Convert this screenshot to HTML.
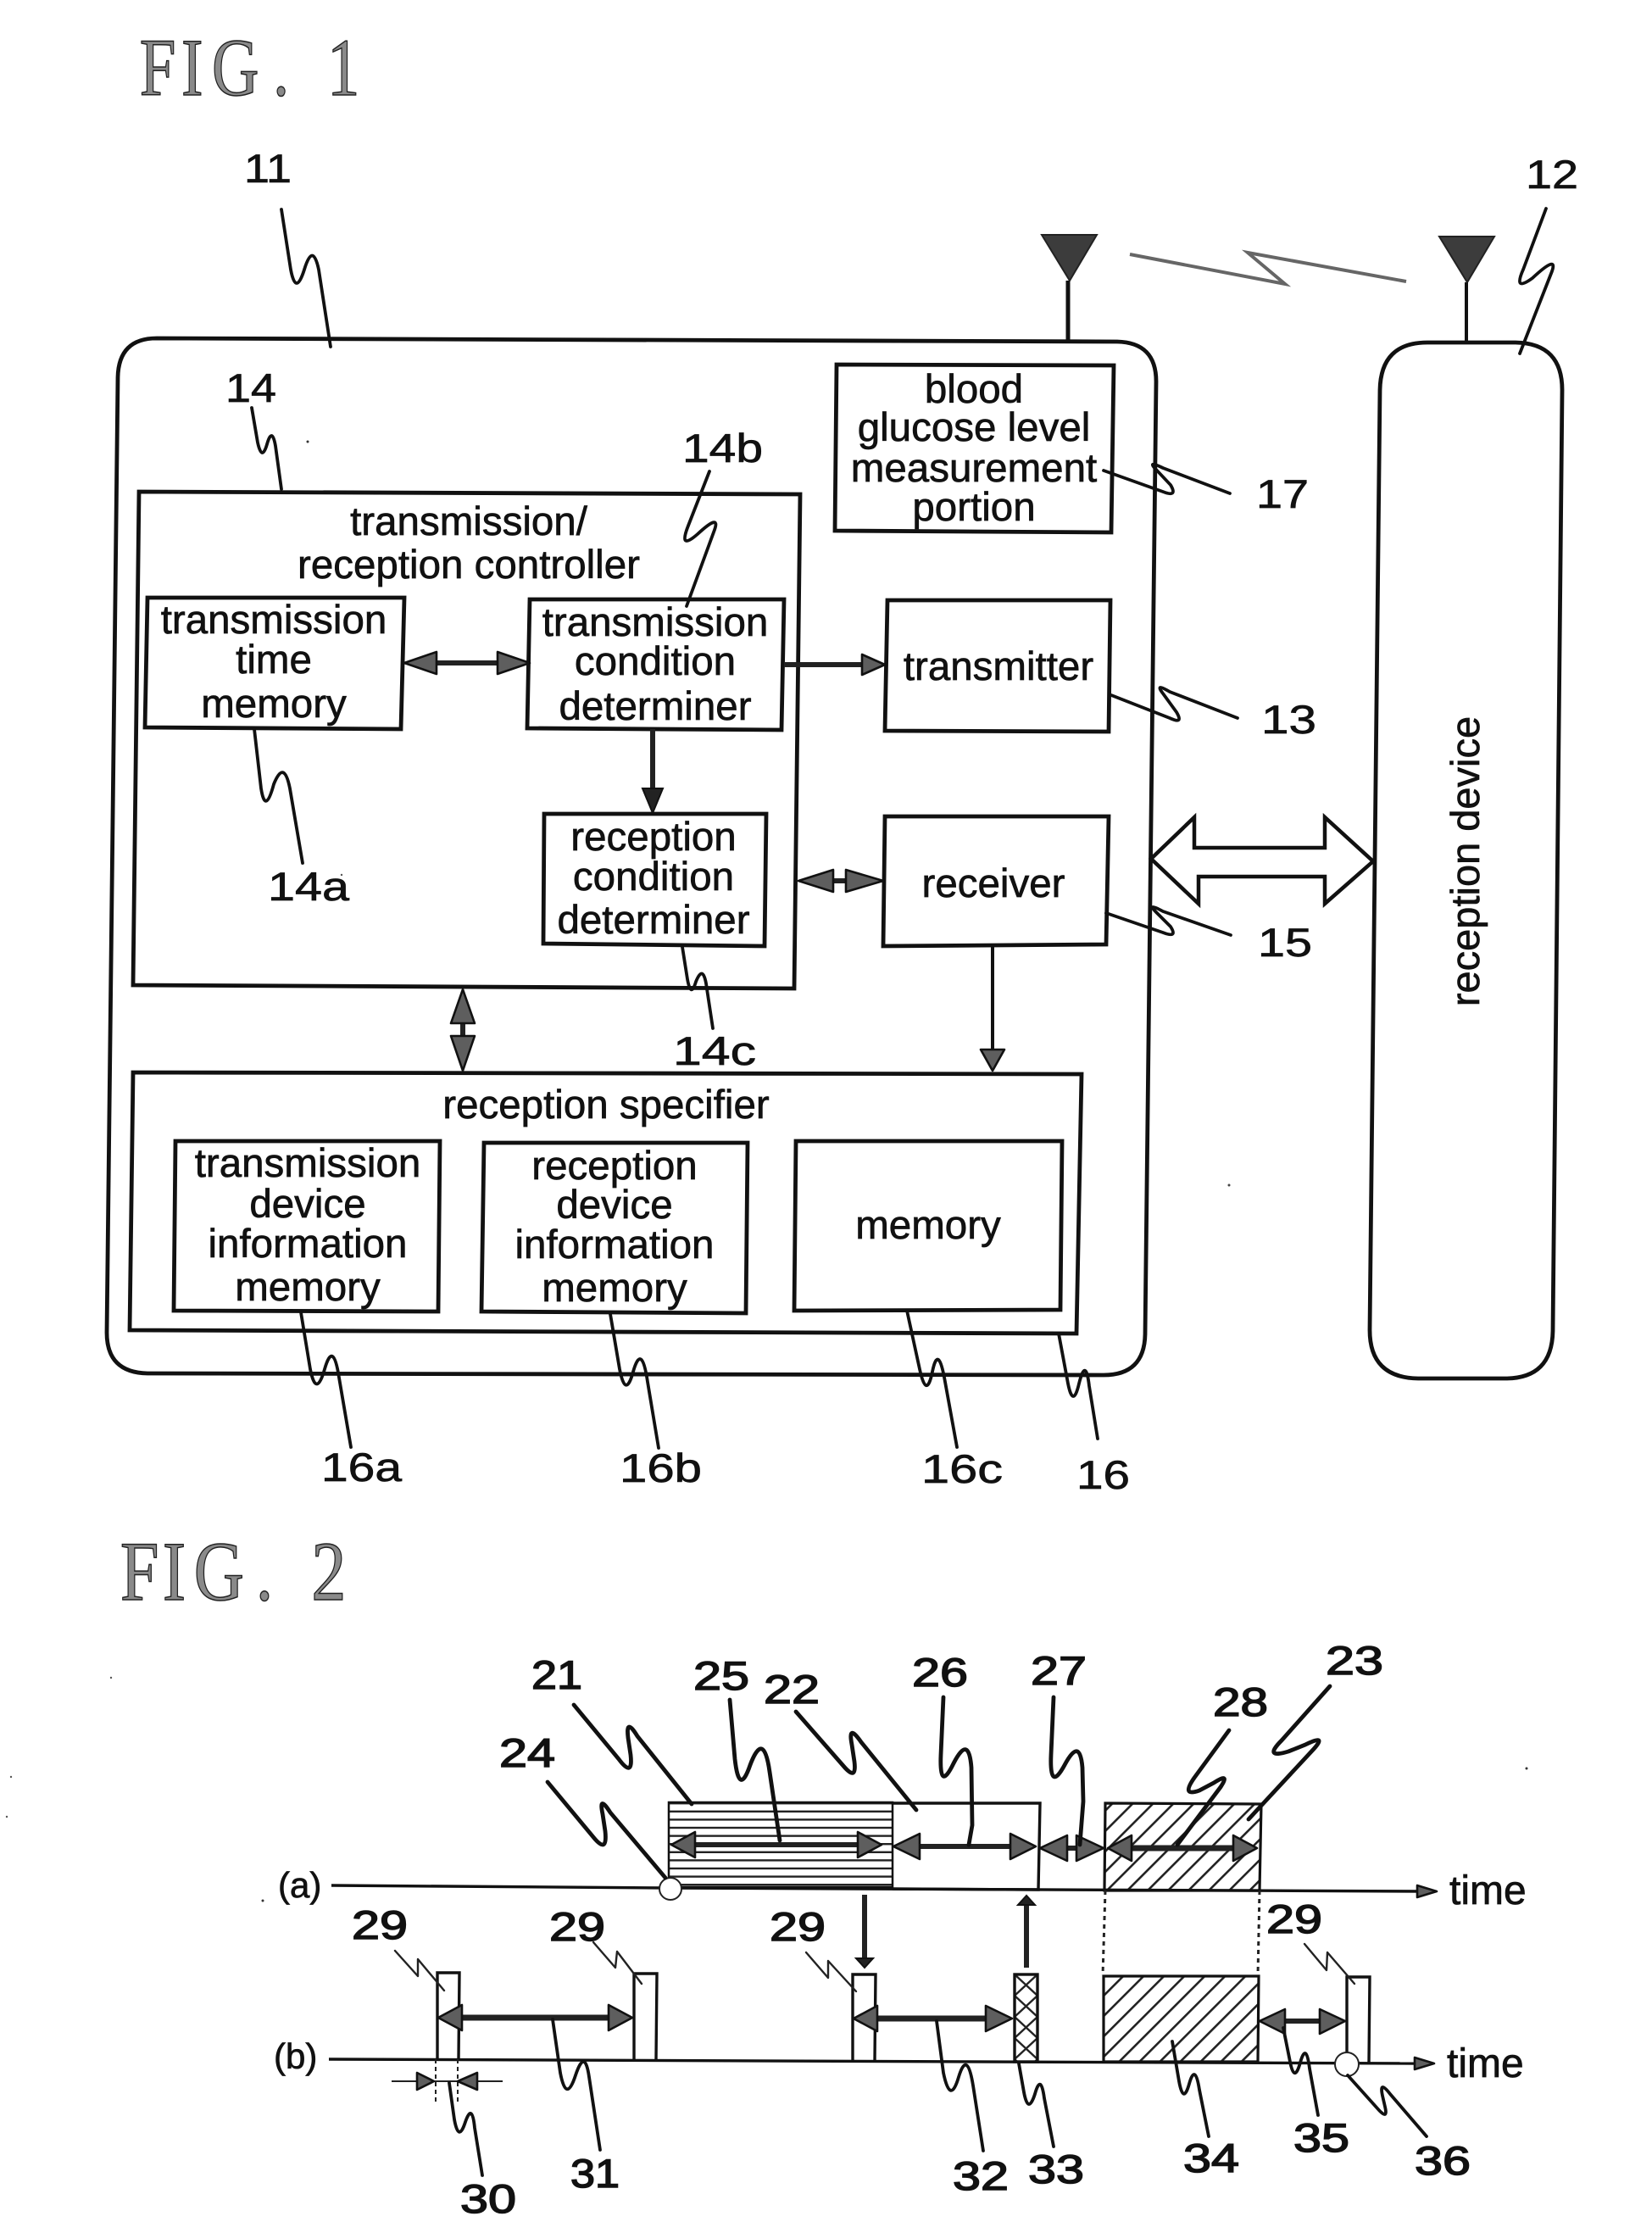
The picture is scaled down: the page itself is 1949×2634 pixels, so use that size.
<!DOCTYPE html>
<html><head><meta charset="utf-8"><style>
html,body{margin:0;padding:0;background:#fff}
svg{display:block}
text{font-family:"Liberation Sans",sans-serif;fill:#111}
.t{font-size:47.5px;text-anchor:middle;stroke:#111;stroke-width:.7;transform:translateY(2px)}
.r{font-size:47px;text-anchor:middle;stroke:#111;stroke-width:.7}
.n{font-size:47px;stroke:#111;stroke-width:.7}
.m{font-size:47px;stroke:#111;stroke-width:1.5}
.f{font-family:"Liberation Serif",serif;fill:#8a8a8a;stroke:#222;stroke-width:1.5}
.b{fill:#fff;stroke:#111;stroke-width:4.8;stroke-linejoin:miter}
.o{fill:none;stroke:#111;stroke-width:4.8}
.l{fill:none;stroke:#111;stroke-width:3.8;stroke-linejoin:round;stroke-linecap:round}
.s{fill:none;stroke:#111;stroke-width:4.8;stroke-linejoin:round;stroke-linecap:round}
.k{fill:none;stroke:#222;stroke-width:2.4;stroke-linejoin:round;stroke-linecap:round}
.a{stroke:#222;stroke-width:6;fill:none}
.h{fill:#5e5e5e;stroke:#111;stroke-width:2.6;stroke-linejoin:round}
.d{fill:#222;stroke:#111;stroke-width:2}
.x{stroke:#111;stroke-width:3.4;fill:none}
</style></head><body>
<svg xmlns="http://www.w3.org/2000/svg" width="1949" height="2634" viewBox="0 0 1949 2634">
<defs>
<pattern id="hz" width="40" height="9.6" patternUnits="userSpaceOnUse" y="2126"><rect width="40" height="2.4" fill="#222"/></pattern>
<pattern id="dg" width="17" height="17" patternUnits="userSpaceOnUse" patternTransform="rotate(45)"><rect width="2.6" height="17" fill="#222"/></pattern>
<pattern id="cr" width="27" height="25" patternUnits="userSpaceOnUse" x="1197" y="2329"><path d="M0 0L27 25M27 0L0 25" stroke="#222" stroke-width="2.4" fill="none"/></pattern>
</defs>

<!-- FIG 1 -->
<text class="f" font-size="96" transform="translate(0,112) scale(.8,1)" x="206 267.5 312.5 402.5 440 482.5">FIG. 1</text>

<!-- outer device 11 -->
<path class="o" d="M185 399L1318 403Q1364 404 1364 450L1351 1574Q1350 1622 1302 1622L174 1620Q126 1619 126 1572L139 445Q140 399 185 399Z"/>
<!-- device 12 -->
<path class="o" d="M1684 404L1788 404Q1844 405 1843 462L1832 1570Q1831 1626 1776 1626L1673 1626Q1616 1625 1616 1569L1628 460Q1629 404 1684 404Z"/>

<!-- antennas -->
<polygon points="1229,277 1294,277 1262,331" fill="#3c3c3c" stroke="#222" stroke-width="2"/>
<line x1="1260" y1="331" x2="1260" y2="402" stroke="#111" stroke-width="5"/>
<polygon points="1698,279 1763,279 1731,333" fill="#3c3c3c" stroke="#222" stroke-width="2"/>
<line x1="1730" y1="333" x2="1730" y2="404" stroke="#111" stroke-width="4"/>
<polyline points="1333,300 1516,335 1472,298 1659,332" fill="none" stroke="#666" stroke-width="4"/>

<!-- box 14 -->
<polygon class="b" points="164,580 944,583 937,1166 157,1162"/>
<text class="t" x="553" y="629">transmission/</text>
<text class="t" x="553" y="680">reception controller</text>

<polygon class="b" points="174,705 477,705 473,860 171,858"/>
<text class="t" x="323" y="745">transmission</text>
<text class="t" x="323" y="792">time</text>
<text class="t" x="323" y="844">memory</text>

<polygon class="b" points="625,707 925,707 922,861 622,859"/>
<text class="t" x="773" y="748">transmission</text>
<text class="t" x="773" y="794">condition</text>
<text class="t" x="773" y="847">determiner</text>

<polygon class="b" points="642,960 904,960 902,1116 641,1113"/>
<text class="t" x="771" y="1001">reception</text>
<text class="t" x="771" y="1048">condition</text>
<text class="t" x="771" y="1099">determiner</text>

<!-- box 17 -->
<polygon class="b" points="987,430 1314,431 1311,628 985,626"/>
<text class="t" x="1149" y="473">blood</text>
<text class="t" x="1149" y="518">glucose level</text>
<text class="t" x="1149" y="566">measurement</text>
<text class="t" x="1149" y="612">portion</text>

<!-- transmitter, receiver -->
<polygon class="b" points="1047,708 1310,708 1308,863 1044,862"/>
<text class="t" x="1178" y="800">transmitter</text>
<polygon class="b" points="1044,963 1308,963 1305,1114 1042,1116"/>
<text class="t" x="1172" y="1056">receiver</text>

<!-- box 16 -->
<polygon class="b" points="157,1265 1276,1267 1270,1573 153,1569"/>
<text class="t" x="715" y="1317">reception specifier</text>
<polygon class="b" points="207,1346 519,1346 517,1547 205,1546"/>
<text class="t" x="363" y="1386">transmission</text>
<text class="t" x="363" y="1434">device</text>
<text class="t" x="363" y="1481">information</text>
<text class="t" x="363" y="1532">memory</text>
<polygon class="b" points="571,1348 882,1348 880,1549 568,1547"/>
<text class="t" x="725" y="1389">reception</text>
<text class="t" x="725" y="1435">device</text>
<text class="t" x="725" y="1482">information</text>
<text class="t" x="725" y="1533">memory</text>
<polygon class="b" points="939,1346 1253,1346 1251,1545 937,1546"/>
<text class="t" x="1095" y="1459">memory</text>

<!-- reception device label -->
<text class="r" transform="translate(1745,1016) rotate(-90)">reception device</text>

<!-- block double arrow -->
<polygon points="1358,1013 1409,964 1409,1000 1563,1000 1563,964 1620,1016 1563,1066 1563,1034 1414,1034 1414,1066" fill="#fff" stroke="#111" stroke-width="4.5"/>

<!-- fig1 arrows -->
<line class="a" x1="505" y1="782" x2="600" y2="782"/>
<polygon class="h" points="477,782 515,769 515,795"/>
<polygon class="h" points="625,782 587,769 587,795"/>
<line class="a" x1="925" y1="784" x2="1025" y2="784"/>
<polygon class="h" points="1044,784 1017,772 1017,796"/>
<line class="a" x1="960" y1="1039" x2="1020" y2="1039"/>
<polygon class="h" points="942,1039 983,1026 983,1052"/>
<polygon class="h" points="1042,1039 998,1026 998,1052"/>
<line class="a" x1="546" y1="1190" x2="546" y2="1240"/>
<polygon class="h" points="546,1167 532,1207 560,1207"/>
<polygon class="h" points="546,1263 532,1222 560,1222"/>
<line class="a" x1="770" y1="860" x2="770" y2="935"/>
<polygon class="d" points="770,959 758,930 782,930"/>
<line x1="1171" y1="1114" x2="1171" y2="1240" stroke="#111" stroke-width="4"/>
<polygon class="h" points="1171,1263 1157,1238 1185,1238"/>

<!-- fig1 leaders -->
<path class="l" d="M332 247L343 318Q349 350 359 318Q369 285 376 318L390 409"/>
<path class="l" d="M297 481L304 522Q309 545 315 524Q321 503 325 526L332 577"/>
<path class="l" d="M837 556L812 620Q800 650 823 630Q850 605 843 625L810 715"/>
<path class="l" d="M300 860L308 930Q313 962 323 925Q335 895 342 930L357 1018"/>
<path class="l" d="M805 1117L811 1155Q815 1178 821 1158Q829 1138 833 1160L841 1213"/>
<path class="l" d="M1302 555L1372 580Q1390 587 1381 572L1365 555Q1352 542 1372 552L1451 582"/>
<path class="l" d="M1311 820L1380 847Q1397 855 1388 840L1372 818Q1362 805 1380 816L1460 847"/>
<path class="l" d="M1305 1077L1372 1100Q1390 1107 1381 1093L1365 1077Q1352 1064 1372 1075L1452 1103"/>
<path class="l" d="M1824 246L1797 318Q1785 345 1808 328Q1838 300 1831 320L1793 417"/>
<path class="l" d="M355 1548L366 1615Q373 1650 383 1615Q393 1580 400 1625L414 1707"/>
<path class="l" d="M720 1550L731 1615Q738 1651 747 1618Q757 1583 764 1630L777 1708"/>
<path class="l" d="M1070 1546L1085 1615Q1093 1652 1100 1618Q1107 1584 1115 1630L1129 1707"/>
<path class="l" d="M1249 1573L1260 1632Q1266 1662 1273 1632Q1281 1600 1285 1635L1295 1697"/>

<!-- fig1 numbers -->
<text class="n" x="288" y="215" textLength="56" lengthAdjust="spacingAndGlyphs">11</text>
<text class="n" x="1800" y="222" textLength="62" lengthAdjust="spacingAndGlyphs">12</text>
<text class="n" x="266" y="474" textLength="60" lengthAdjust="spacingAndGlyphs">14</text>
<text class="n" x="805" y="545" textLength="95" lengthAdjust="spacingAndGlyphs">14b</text>
<text class="n" x="1482" y="599" textLength="62" lengthAdjust="spacingAndGlyphs">17</text>
<text class="n" x="1488" y="865" textLength="65" lengthAdjust="spacingAndGlyphs">13</text>
<text class="n" x="316" y="1062" textLength="96" lengthAdjust="spacingAndGlyphs">14a</text>
<text class="n" x="1484" y="1128" textLength="64" lengthAdjust="spacingAndGlyphs">15</text>
<text class="n" x="794" y="1256" textLength="98" lengthAdjust="spacingAndGlyphs">14c</text>
<text class="n" x="379" y="1747" textLength="95" lengthAdjust="spacingAndGlyphs">16a</text>
<text class="n" x="731" y="1748" textLength="97" lengthAdjust="spacingAndGlyphs">16b</text>
<text class="n" x="1087" y="1749" textLength="96" lengthAdjust="spacingAndGlyphs">16c</text>
<text class="n" x="1270" y="1756" textLength="63" lengthAdjust="spacingAndGlyphs">16</text>

<!-- FIG 2 -->
<text class="f" font-size="100" transform="translate(0,1887) scale(.82,1)" x="173 234 279 368 405 448">FIG. 2</text>

<!-- fig2 top row -->
<rect x="789" y="2126" width="264" height="100" fill="url(#hz)" stroke="#111" stroke-width="2.5"/>
<polyline class="x" points="1053,2127 1227,2127 1225,2229 1053,2228"/>
<polygon points="1304,2127 1488,2128 1486,2230 1303,2230" fill="url(#dg)" stroke="#111" stroke-width="3.2"/>
<line class="x" x1="391" y1="2224" x2="789" y2="2227"/>
<line class="x" x1="789" y1="2227" x2="1680" y2="2231"/>
<polygon class="h" points="1695,2231 1672,2224 1672,2238"/>
<circle cx="791" cy="2228" r="13" fill="#fff" stroke="#222" stroke-width="2"/>

<!-- dotted guides -->
<line x1="1304" y1="2230" x2="1301" y2="2330" stroke="#222" stroke-width="3" stroke-dasharray="5 5"/>
<line x1="1486" y1="2230" x2="1484" y2="2330" stroke="#222" stroke-width="3" stroke-dasharray="5 5"/>

<!-- fig2 lower row -->
<line class="x" x1="388" y1="2429" x2="1675" y2="2434"/>
<polygon class="h" points="1692,2434 1669,2427 1669,2441"/>
<polyline class="x" points="516,2429 516,2327 542,2327 541,2429"/>
<polyline class="x" points="748,2430 748,2328 775,2328 774,2430"/>
<polyline class="x" points="1006,2431 1006,2329 1033,2329 1032,2431"/>
<rect x="1197" y="2329" width="27" height="103" fill="url(#cr)" stroke="#111" stroke-width="3.4"/>
<polygon points="1302,2331 1485,2331 1484,2432 1302,2432" fill="url(#dg)" stroke="#111" stroke-width="3.2"/>
<polyline class="x" points="1589,2434 1589,2332 1616,2332 1615,2434"/>
<circle cx="1589" cy="2435" r="14" fill="#fff" stroke="#222" stroke-width="2"/>

<!-- dimension 30 -->
<line x1="514" y1="2429" x2="514" y2="2482" stroke="#222" stroke-width="2" stroke-dasharray="5 4"/>
<line x1="540" y1="2429" x2="540" y2="2482" stroke="#222" stroke-width="2" stroke-dasharray="5 4"/>
<line x1="462" y1="2455" x2="593" y2="2455" stroke="#222" stroke-width="2"/>
<polygon class="h" points="512,2455 492,2445 492,2465"/>
<polygon class="h" points="540,2455 563,2445 563,2465"/>

<!-- fig2 dbl arrows -->
<line class="a" x1="805" y1="2176" x2="1025" y2="2176"/>
<polygon class="h" points="792,2176 820,2161 820,2191"/><polygon class="h" points="1040,2176 1012,2161 1012,2191"/>
<line class="a" x1="1070" y1="2178" x2="1205" y2="2178"/>
<polygon class="h" points="1054,2178 1085,2163 1085,2193"/><polygon class="h" points="1222,2178 1192,2163 1192,2193"/>
<line class="a" x1="1245" y1="2180" x2="1285" y2="2180"/>
<polygon class="h" points="1227,2180 1259,2165 1259,2195"/><polygon class="h" points="1302,2180 1270,2165 1270,2195"/>
<line class="a" x1="1320" y1="2180" x2="1470" y2="2180" style="stroke-width:7"/>
<polygon class="h" points="1307,2180 1335,2165 1335,2195"/><polygon class="h" points="1483,2180 1455,2165 1455,2195"/>
<line class="a" x1="530" y1="2380" x2="730" y2="2380" style="stroke-width:7"/>
<polygon class="h" points="517,2380 545,2365 545,2395"/><polygon class="h" points="746,2380 718,2365 718,2395"/>
<line class="a" x1="1020" y1="2381" x2="1180" y2="2381" style="stroke-width:7"/>
<polygon class="h" points="1007,2381 1035,2366 1035,2396"/><polygon class="h" points="1194,2381 1163,2366 1163,2396"/>
<line class="a" x1="1500" y1="2384" x2="1570" y2="2384"/>
<polygon class="h" points="1486,2384 1516,2370 1516,2399"/><polygon class="h" points="1587,2384 1557,2370 1557,2399"/>

<!-- vertical arrows -->
<line x1="1020" y1="2235" x2="1020" y2="2315" stroke="#222" stroke-width="6"/>
<polygon class="d" points="1020,2321 1010,2310 1030,2310"/>
<line x1="1211" y1="2321" x2="1211" y2="2244" stroke="#222" stroke-width="6"/>
<polygon class="d" points="1211,2236 1201,2247 1221,2247"/>

<!-- fig2 leaders -->
<path class="s" d="M677 2011L730 2075Q747 2098 744 2070L741 2050Q738 2025 752 2048L816 2128"/>
<path class="s" d="M861 2005L867 2075Q872 2120 885 2082Q901 2040 908 2090L920 2171"/>
<path class="s" d="M939 2019L995 2083Q1011 2102 1008 2078L1005 2058Q1000 2032 1016 2055L1081 2135"/>
<path class="s" d="M646 2102L700 2167Q717 2188 714 2160L711 2140Q706 2116 720 2138L785 2215"/>
<path class="s" d="M1113 2002L1110 2070Q1108 2115 1125 2080Q1143 2045 1146 2085L1147 2153L1143 2176"/>
<path class="s" d="M1243 2002L1240 2070Q1238 2115 1256 2082Q1274 2048 1277 2085L1278 2125L1274 2176"/>
<path class="s" d="M1450 2041L1409 2097Q1393 2120 1415 2112L1432 2103Q1452 2090 1440 2108L1389 2176"/>
<path class="s" d="M1569 1989L1512 2053Q1490 2075 1520 2066L1540 2058Q1566 2045 1550 2063L1473 2146"/>
<polyline class="k" points="466,2301 493,2331 493,2311 524,2348"/>
<polyline class="k" points="700,2291 726,2321 728,2302 757,2340"/>
<polyline class="k" points="951,2303 977,2333 977,2313 1010,2349"/>
<polyline class="k" points="1539,2293 1565,2324 1566,2303 1598,2340"/>
<path class="l" d="M530 2457L536 2500Q541 2528 549 2503Q557 2480 560 2510L569 2566"/>
<path class="l" d="M652 2382L661 2445Q668 2482 679 2448Q690 2415 695 2450L708 2536"/>
<path class="l" d="M1105 2384L1113 2445Q1121 2484 1131 2450Q1141 2417 1148 2460L1160 2537"/>
<path class="l" d="M1202 2434L1208 2468Q1213 2495 1221 2470Q1228 2445 1232 2475L1243 2532"/>
<path class="l" d="M1383 2408L1391 2455Q1396 2483 1403 2458Q1410 2433 1415 2465L1426 2520"/>
<path class="l" d="M1514 2392L1522 2432Q1527 2458 1534 2433Q1541 2408 1545 2440L1555 2495"/>
<path class="l" d="M1590 2448L1625 2487Q1638 2502 1634 2485L1631 2472Q1627 2453 1640 2470L1683 2520"/>

<!-- fig2 numbers -->
<text class="m" x="627" y="1992" textLength="60" lengthAdjust="spacingAndGlyphs">21</text>
<text class="m" x="818" y="1993" textLength="66" lengthAdjust="spacingAndGlyphs">25</text>
<text class="m" x="901" y="2009" textLength="66" lengthAdjust="spacingAndGlyphs">22</text>
<text class="m" x="589" y="2084" textLength="66" lengthAdjust="spacingAndGlyphs">24</text>
<text class="m" x="1076" y="1989" textLength="66" lengthAdjust="spacingAndGlyphs">26</text>
<text class="m" x="1216" y="1987" textLength="66" lengthAdjust="spacingAndGlyphs">27</text>
<text class="m" x="1431" y="2024" textLength="65" lengthAdjust="spacingAndGlyphs">28</text>
<text class="m" x="1564" y="1975" textLength="68" lengthAdjust="spacingAndGlyphs">23</text>
<text class="m" x="415" y="2287" textLength="66" lengthAdjust="spacingAndGlyphs">29</text>
<text class="m" x="648" y="2289" textLength="66" lengthAdjust="spacingAndGlyphs">29</text>
<text class="m" x="908" y="2289" textLength="66" lengthAdjust="spacingAndGlyphs">29</text>
<text class="m" x="1494" y="2280" textLength="66" lengthAdjust="spacingAndGlyphs">29</text>
<text class="m" x="543" y="2610" textLength="66" lengthAdjust="spacingAndGlyphs">30</text>
<text class="m" x="673" y="2580" textLength="58" lengthAdjust="spacingAndGlyphs">31</text>
<text class="m" x="1124" y="2583" textLength="66" lengthAdjust="spacingAndGlyphs">32</text>
<text class="m" x="1213" y="2575" textLength="66" lengthAdjust="spacingAndGlyphs">33</text>
<text class="m" x="1396" y="2562" textLength="66" lengthAdjust="spacingAndGlyphs">34</text>
<text class="m" x="1526" y="2538" textLength="66" lengthAdjust="spacingAndGlyphs">35</text>
<text class="m" x="1669" y="2565" textLength="66" lengthAdjust="spacingAndGlyphs">36</text>
<text class="n" x="328" y="2238" style="font-size:42px">(a)</text>
<text class="n" x="323" y="2440" style="font-size:42px">(b)</text>
<text class="n" x="1710" y="2246" style="font-size:48px">time</text>
<text class="n" x="1707" y="2450" style="font-size:48px">time</text>

<!-- specks -->
<circle cx="363" cy="521" r="1.5" fill="#333"/><circle cx="310" cy="2242" r="1.5" fill="#333"/><circle cx="1801" cy="2086" r="1.5" fill="#333"/><circle cx="131" cy="1979" r="1.2" fill="#555"/><circle cx="13" cy="2096" r="1.2" fill="#555"/><circle cx="8" cy="2143" r="1.2" fill="#555"/><circle cx="1450" cy="1398" r="1.5" fill="#444"/><circle cx="403" cy="1032" r="1.2" fill="#555"/>
</svg>
</body></html>
